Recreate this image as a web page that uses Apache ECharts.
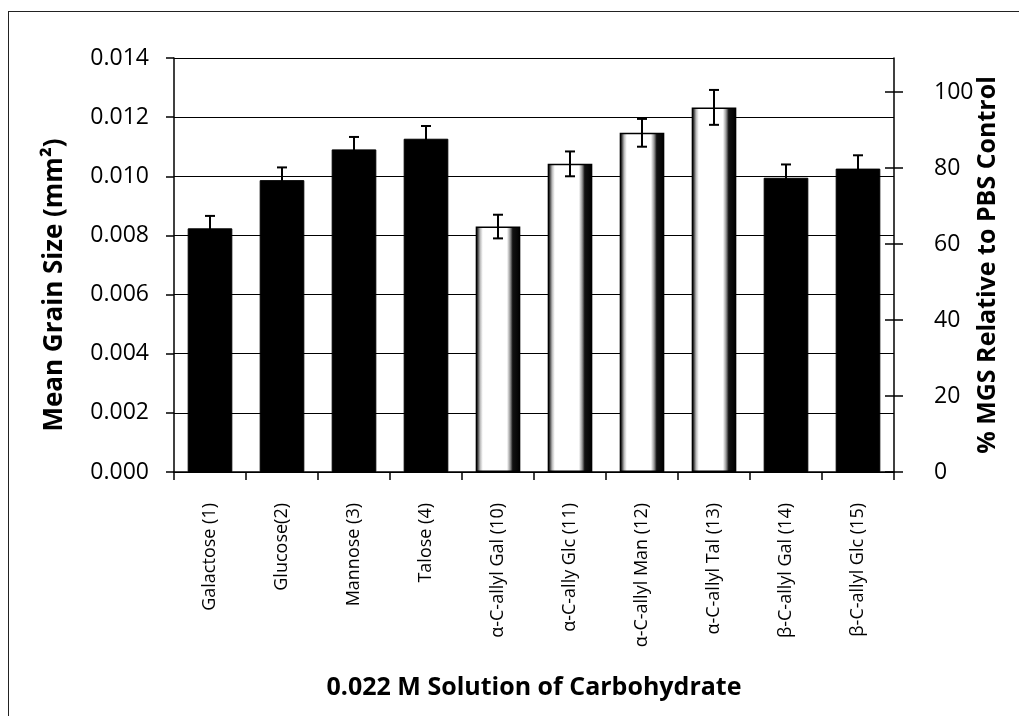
<!DOCTYPE html>
<html>
<head>
<meta charset="utf-8">
<style>
  html, body { margin: 0; padding: 0; background: #fff; }
  #wrap { position: relative; width: 1019px; height: 716px; }
  #frame { position: absolute; left: 8px; top: 11px; width: 1011px; height: 705px;
           border-left: 1.5px solid #222; border-top: 1.5px solid #222; box-sizing: border-box; }
  #chart { position: absolute; left: 0; top: 0; width: 1019px; height: 716px; }
</style>
<script src="https://cdn.jsdelivr.net/npm/echarts@6/dist/echarts.min.js"></script>
</head>
<body>
<div id="wrap">
  <div id="frame"></div>
  <div id="chart"></div>
</div>
<script>
const categories = [
  'Galactose (1)', 'Glucose(2)', 'Mannose (3)', 'Talose (4)',
  'α-C-allyl Gal (10)', 'α-C-ally Glc (11)', 'α-C-allyl Man (12)', 'α-C-allyl Tal (13)',
  'β-C-allyl Gal (14)', 'β-C-allyl Glc (15)'
];
const meanGrainSize = [0.00824, 0.00987, 0.01091, 0.01127, 0.00830, 0.01042, 0.01147, 0.01233, 0.00995, 0.01026];
const errorValues   = [0.00042, 0.00043, 0.00042, 0.00043, 0.00040, 0.00042, 0.00047, 0.00059, 0.00045, 0.00045];
const barGroups     = ['plain', 'plain', 'plain', 'plain', 'alpha', 'alpha', 'alpha', 'alpha', 'plain', 'plain'];
const leftTicks  = [0, 0.002, 0.004, 0.006, 0.008, 0.010, 0.012, 0.014];
const rightTicks = [0, 20, 40, 60, 80, 100];
const rightMax = 109;

const alphaFill = {
  type: 'linear', x: 0, y: 0, x2: 1, y2: 0,
  colorStops: [
    { offset: 0.00, color: '#000' },
    { offset: 0.05, color: '#444' },
    { offset: 0.10, color: '#bbb' },
    { offset: 0.16, color: '#fff' },
    { offset: 0.70, color: '#fff' },
    { offset: 0.77, color: '#999' },
    { offset: 0.83, color: '#111' },
    { offset: 1.00, color: '#000' }
  ]
};

const barData = meanGrainSize.map((v, i) => ({
  value: v,
  itemStyle: barGroups[i] === 'alpha'
    ? { color: alphaFill, borderColor: '#000', borderWidth: 1.5 }
    : { color: '#000', borderColor: '#000', borderWidth: 1 }
}));
const errData = meanGrainSize.map((v, i) => [i, v, errorValues[i]]);

const font = '"Open Sans", "DejaVu Sans", sans-serif';

const chart = echarts.init(document.getElementById('chart'), null, { renderer: 'canvas' });
chart.setOption({
  animation: false,
  backgroundColor: 'transparent',
  grid: { left: 174, right: 125, top: 58, bottom: 244, containLabel: false },
  xAxis: {
    type: 'category',
    data: categories,
    boundaryGap: true,
    axisLine: { lineStyle: { color: '#000', width: 1.5 } },
    axisTick: { show: true, length: 8, lineStyle: { color: '#000', width: 1.5 } },
    axisLabel: { rotate: 90, margin: 31, color: '#000', fontSize: 18, fontFamily: font, interval: 0 },
    name: '0.022 M Solution of Carbohydrate',
    nameLocation: 'middle',
    nameGap: 203,
    nameTextStyle: { color: '#000', fontSize: 25, fontWeight: 'bold', fontFamily: font }
  },
  yAxis: [
    {
      type: 'value', position: 'left',
      min: 0, max: 0.014, interval: 0.002,
      axisLine: { show: true, lineStyle: { color: '#000', width: 1.5 } },
      axisTick: { show: true, length: 8, lineStyle: { color: '#000', width: 1.5 } },
      axisLabel: { color: '#000', fontSize: 23, fontFamily: font, margin: 25,
                   formatter: v => v.toFixed(3) },
      splitLine: { show: true, lineStyle: { color: '#000', width: 1.2 } },
      name: 'Mean Grain Size (mm²)',
      nameLocation: 'middle', nameRotate: 90, nameGap: 106,
      nameTextStyle: { color: '#000', fontSize: 26, fontWeight: 'bold', fontFamily: font,
                       padding: [0, 40, 0, 0] }
    },
    {
      type: 'value', position: 'right',
      min: 0, max: rightMax,
      axisLine: { show: true, lineStyle: { color: '#000', width: 1.5 } },
      axisTick: { show: true, length: 9, customValues: rightTicks, lineStyle: { color: '#000', width: 1.5 } },
      axisLabel: { color: '#000', fontSize: 23, fontFamily: font, margin: 40, customValues: rightTicks },
      splitLine: { show: false },
      name: '% MGS Relative to PBS Control',
      nameLocation: 'middle', nameRotate: 90, nameGap: 81, nameMoveOverlap: false,
      nameTextStyle: { color: '#000', fontSize: 25, fontWeight: 'bold', fontFamily: font }
    },
    {
      type: 'value', position: 'right',
      min: 0, max: rightMax,
      axisLine: { show: false },
      axisTick: { show: true, inside: true, length: 9, customValues: rightTicks, lineStyle: { color: '#000', width: 1.5 } },
      axisLabel: { show: false },
      splitLine: { show: false }
    }
  ],
  series: [
    {
      type: 'bar',
      data: barData,
      barWidth: '62%',
      yAxisIndex: 0,
      z: 2
    },
    {
      type: 'custom',
      yAxisIndex: 0,
      z: 5,
      data: errData,
      renderItem: function (params, api) {
        const x = api.value(0);
        const m = api.value(1);
        const e = api.value(2);
        const top = api.coord([x, m + e]);
        const bot = api.coord([x, m - e]);
        const cap = 5;
        const style = { stroke: '#000', lineWidth: 2 };
        return {
          type: 'group',
          children: [
            { type: 'line', shape: { x1: top[0], y1: top[1], x2: bot[0], y2: bot[1] }, style: style },
            { type: 'line', shape: { x1: top[0] - cap, y1: top[1], x2: top[0] + cap, y2: top[1] }, style: style },
            { type: 'line', shape: { x1: bot[0] - cap, y1: bot[1], x2: bot[0] + cap, y2: bot[1] }, style: style }
          ]
        };
      }
    }
  ]
});
</script>
</body>
</html>
